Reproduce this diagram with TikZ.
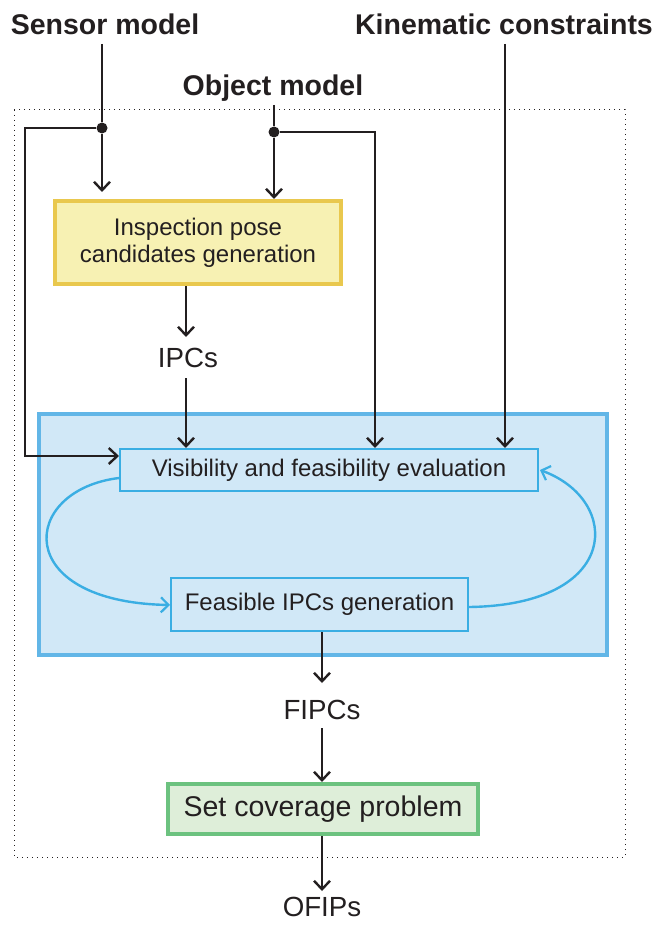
\documentclass[tikz,border=0pt]{standalone}
\usepackage{fontspec}
\setmainfont{Liberation Sans}
\usetikzlibrary{arrows.meta}
\definecolor{ink}{HTML}{231F20}
\definecolor{ylwline}{HTML}{E9C84E}
\definecolor{ylwfill}{HTML}{F7F1B3}
\definecolor{bigline}{HTML}{62B6E7}
\definecolor{bigfill}{HTML}{D1E8F7}
\definecolor{inline}{HTML}{3AAEE3}
\definecolor{grnline}{HTML}{6CC27F}
\definecolor{grnfill}{HTML}{DEEED9}
\tikzset{
  arr/.style={draw=ink,line width=2.6pt,-{Straight Barb[length=8.5pt,width=16pt,line width=2.4pt]}},
  plain/.style={draw=ink,line width=2.6pt},
  bluearr/.style={draw=inline,line width=2.4pt,-{Straight Barb[length=7.5pt,width=15pt,line width=2.2pt]}},
  headlbl/.style={font=\bfseries\fontsize{28.5}{30}\selectfont,text=ink,inner sep=0pt,anchor=base},
  flowlbl/.style={font=\fontsize{27.7}{30}\selectfont,text=ink,inner sep=0pt,anchor=base},
  boxtxt/.style={font=\fontsize{24}{27}\selectfont,text=ink,inner sep=0pt,align=center},
  dot/.style={circle,fill=ink,inner sep=0pt,minimum size=11pt}
}
\begin{document}
\begin{tikzpicture}[x=1pt,y=-1pt]
\useasboundingbox (0,0) rectangle (657,925);
% dotted frame
\draw[ink,line width=1pt,dash pattern=on 1pt off 4pt] (14,110) rectangle (625,857);
% big blue box
\draw[bigline,fill=bigfill,line width=4pt] (39,414) rectangle (607,655);
% nodes
\node[headlbl] (sensor) at (105,35) {Sensor model};
\node[headlbl] (object) at (273,96) {Object model};
\node[headlbl] (kin) at (504,35) {Kinematic constraints};
\node[boxtxt,draw=ylwline,fill=ylwfill,line width=4pt,minimum width=286pt,minimum height=83pt] (ipc) at (198,242.5) {Inspection pose\\candidates generation};
\node[boxtxt,draw=inline,fill=bigfill,line width=2pt,minimum width=418pt,minimum height=42pt] (vis) at (329,470) {Visibility and feasibility evaluation};
\node[boxtxt,draw=inline,fill=bigfill,line width=2pt,minimum width=297pt,minimum height=53pt] (feas) at (319.5,604.5) {Feasible IPCs generation};
\node[boxtxt,font=\fontsize{28.5}{30}\selectfont,draw=grnline,fill=grnfill,line width=4pt,minimum width=310pt,minimum height=50pt] (scp) at (323,809) {Set coverage problem};
\node[flowlbl] (ipcs) at (188,367) {IPCs};
\node[flowlbl] (fipcs) at (322,719) {FIPCs};
\node[flowlbl] (ofips) at (322,916) {OFIPs};
% coordinates
\coordinate (s0) at (102,44);
\node[dot] (j1) at (102,128) {};
\coordinate (s1) at (102,192);
\coordinate (l1) at (25,128);
\coordinate (l2) at (25,456);
\coordinate (o0) at (274,105);
\node[dot] (j2) at (274,132) {};
\coordinate (r1) at (375,132);
\coordinate (k0) at (505,44);
% connectors
\draw[plain] (s0) -- (j1);
\draw[arr] (j1) -- (s1);
\draw[arr] (j1) -- (l1) -- (l2) -- (vis.west |- l2);
\draw[plain] (o0) -- (j2);
\draw[arr] (j2) -- (ipc.north -| j2);
\draw[arr] (j2) -- (r1) -- (vis.north -| r1);
\draw[arr] (k0) -- (vis.north -| k0);
\draw[arr] (ipc.south -| 186,0) -- (186,337);
\draw[arr] (186,378) -- (vis.north -| 186,0);
\draw[arr] (feas.south -| 322,0) -- (322,683);
\draw[arr] (322,728) -- (scp.north -| 322,0);
\draw[arr] (scp.south -| 322,0) -- (322,891);
% loop
\draw[bluearr] (vis.west |- 0,478) .. controls (20,490) and (10,602) .. (feas.west |- 0,605);
\draw[bluearr] (feas.east |- 0,607) .. controls (622,605) and (622,500) .. (540,470);
\end{tikzpicture}
\end{document}
